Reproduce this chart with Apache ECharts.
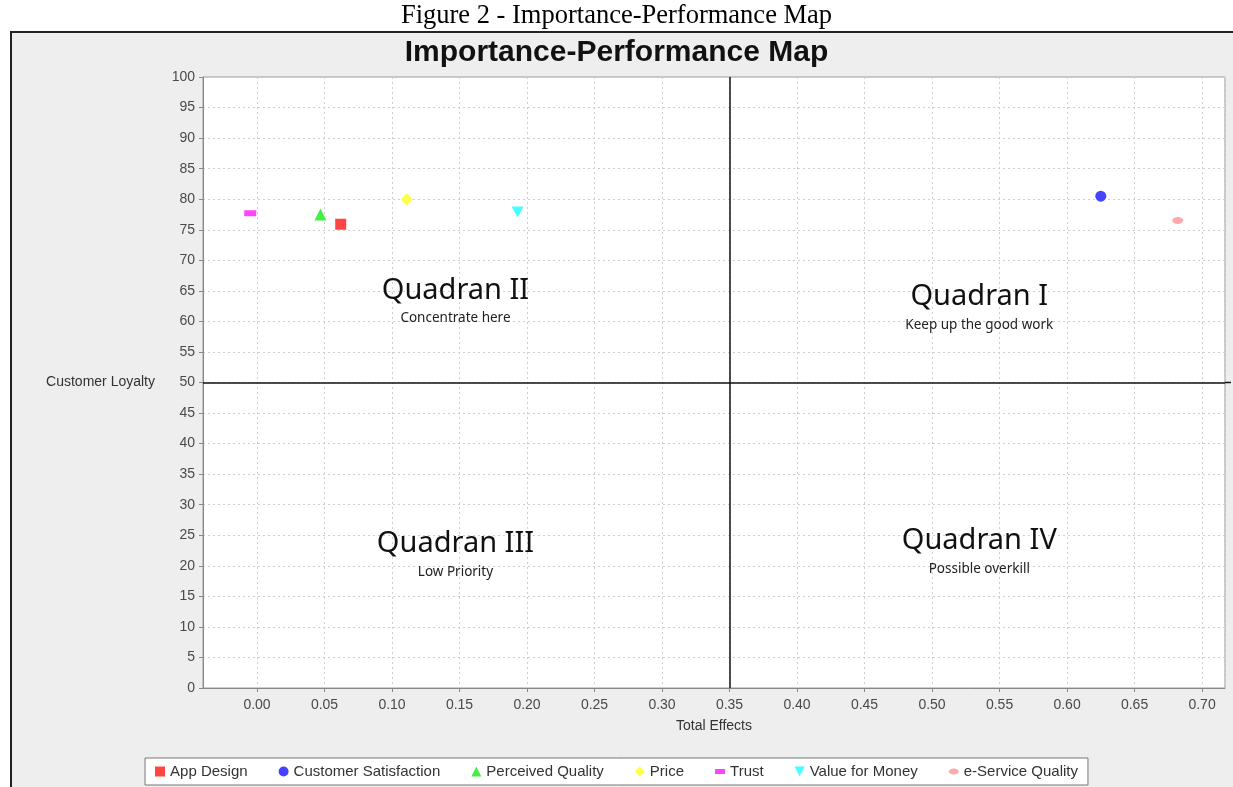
<!DOCTYPE html>
<html>
<head>
<meta charset="utf-8">
<script src="https://cdn.jsdelivr.net/npm/echarts@6/dist/echarts.min.js"></script>
<style>
html,body{margin:0;padding:0;background:#fff;}
#panel{position:absolute;left:10px;top:31px;width:1240px;height:770px;background:#eeeeee;border-left:2px solid #222;border-top:2px solid #222;}
#chart{position:absolute;left:0;top:0;width:1233px;height:787px;}
</style>
</head>
<body>
<div id="panel"></div>
<div id="chart"></div>
<script>
// ---- data ----
const seriesNames = ['App Design','Customer Satisfaction','Perceived Quality','Price','Trust','Value for Money','e-Service Quality'];
const totalEffects = [0.062, 0.625, 0.047, 0.111, -0.005, 0.193, 0.682];
const customerLoyalty = [75.9, 80.5, 77.5, 80.0, 77.7, 77.9, 76.5];
const seriesColors = ['#ff4444','#4444ff','#44ee44','#ffff44','#ff44ff','#44ffff','#ffaaaa'];
const quadrantTitles = ['Quadran I','Quadran II','Quadran III','Quadran IV'];
const quadrantNotes = ['Keep up the good work','Concentrate here','Low Priority','Possible overkill'];
const quadrantPos = [[0.535, 64.0],[0.147, 65.1],[0.147, 23.6],[0.535, 24.1]];
const xSplit = 0.35, ySplit = 50;

const downTri = 'path://M0,0L10,0L5,10Z';
const flatRect = 'path://M0,0L12,0L12,6L0,6Z';
const ellipse = 'path://M0,3A5,3,0,1,1,10,3A5,3,0,1,1,0,3Z';
const symbols = ['rect','circle','triangle','diamond',flatRect,downTri,ellipse];
const symbolSizes = [11, 11, 12, 12, [12,6], [12,11], [11,7]];
const legendIcons = ['rect','circle','triangle','diamond',flatRect,downTri,ellipse];

const series = seriesNames.map((n,i)=>({
  name:n, type:'scatter',
  data:[[totalEffects[i], customerLoyalty[i]]],
  symbol:symbols[i], symbolSize:symbolSizes[i], symbolKeepAspect:false,
  itemStyle:{color:seriesColors[i], opacity:1},
  z:5
}));
series.push({
  name:'_lines', type:'scatter', data:[], silent:true,
  markLine:{silent:true, symbol:'none', label:{show:false},
    lineStyle:{color:'#111', width:1.5, type:'solid'},
    data:[{xAxis:xSplit},{yAxis:ySplit}]}
});

const chart = echarts.init(document.getElementById('chart'), null, {renderer:'canvas'});
const option = {
  backgroundColor:'transparent',
  animation:false,
  title:[
    {text:'Figure 2 - Importance-Performance Map', left:'center', top:-2,
     textStyle:{fontFamily:'Liberation Serif', fontSize:26.5, fontWeight:'normal', color:'#000'}},
    {text:'Importance-Performance Map', left:'center', top:33,
     textStyle:{fontFamily:'Liberation Sans', fontSize:30, fontWeight:'bold', color:'#111'}}
  ],
  grid:{left:203, right:8, top:77, bottom:99, show:true, backgroundColor:'#fff', borderColor:'#9a9a9a', borderWidth:1},
  legend:{
    data:seriesNames.map((n,i)=>({name:n, icon:legendIcons[i]})),
    bottom:2, left:'center',
    backgroundColor:'#fff', borderColor:'#777', borderWidth:1, padding:[6,10],
    itemWidth:10, itemHeight:10, itemGap:31,
    textStyle:{fontFamily:'Liberation Sans', fontSize:15, color:'#333'}
  },
  xAxis:{
    type:'value', min:-0.04, max:0.717, minInterval:0.05, maxInterval:0.05,
    name:'Total Effects', nameLocation:'middle', nameGap:31,
    nameTextStyle:{fontFamily:'Liberation Sans', fontSize:14, color:'#333'},
    axisLine:{show:true, onZero:false, lineStyle:{color:'#888'}},
    axisTick:{show:true, length:4, lineStyle:{color:'#888'}},
    axisLabel:{showMinLabel:false, showMaxLabel:false, margin:10,
      fontFamily:'Liberation Sans', fontSize:14, color:'#4a4a4a',
      formatter:v=>v.toFixed(2)},
    splitLine:{show:true, lineStyle:{color:'#cfcfcf', type:[2,3]}}
  },
  yAxis:{
    type:'value', min:0, max:100, interval:5,
    name:'Customer Loyalty', nameLocation:'middle', nameRotate:0, nameGap:48,
    nameTextStyle:{fontFamily:'Liberation Sans', fontSize:14, color:'#333', align:'right'},
    axisLine:{show:true, onZero:false, lineStyle:{color:'#888'}},
    axisTick:{show:true, length:4, lineStyle:{color:'#888'}},
    axisLabel:{margin:8, fontFamily:'Liberation Sans', fontSize:14, color:'#4a4a4a'},
    splitLine:{show:true, lineStyle:{color:'#cfcfcf', type:[2,3]}}
  },
  series:series
};
chart.setOption(option);

const g = [];
quadrantTitles.forEach((t,i)=>{
  const p = chart.convertToPixel({gridIndex:0}, quadrantPos[i]);
  g.push({type:'text', x:p[0], y:p[1], z:10, style:{text:t, fontFamily:'Noto Sans', fontSize:29, fill:'#111', align:'center', verticalAlign:'middle'}});
  g.push({type:'text', x:p[0], y:p[1]+28, z:10, style:{text:quadrantNotes[i], fontFamily:'Noto Sans', fontSize:13.5, fill:'#222', align:'center', verticalAlign:'middle'}});
});
// horizontal quadrant line continues slightly past the plot's right border
const hl = chart.convertToPixel({gridIndex:0}, [0.717, ySplit]);
g.push({type:'line', z:10, shape:{x1:hl[0], y1:hl[1], x2:hl[0]+6, y2:hl[1]}, style:{stroke:'#111', lineWidth:1.5}});
chart.setOption({graphic:g});
</script>
</body>
</html>
